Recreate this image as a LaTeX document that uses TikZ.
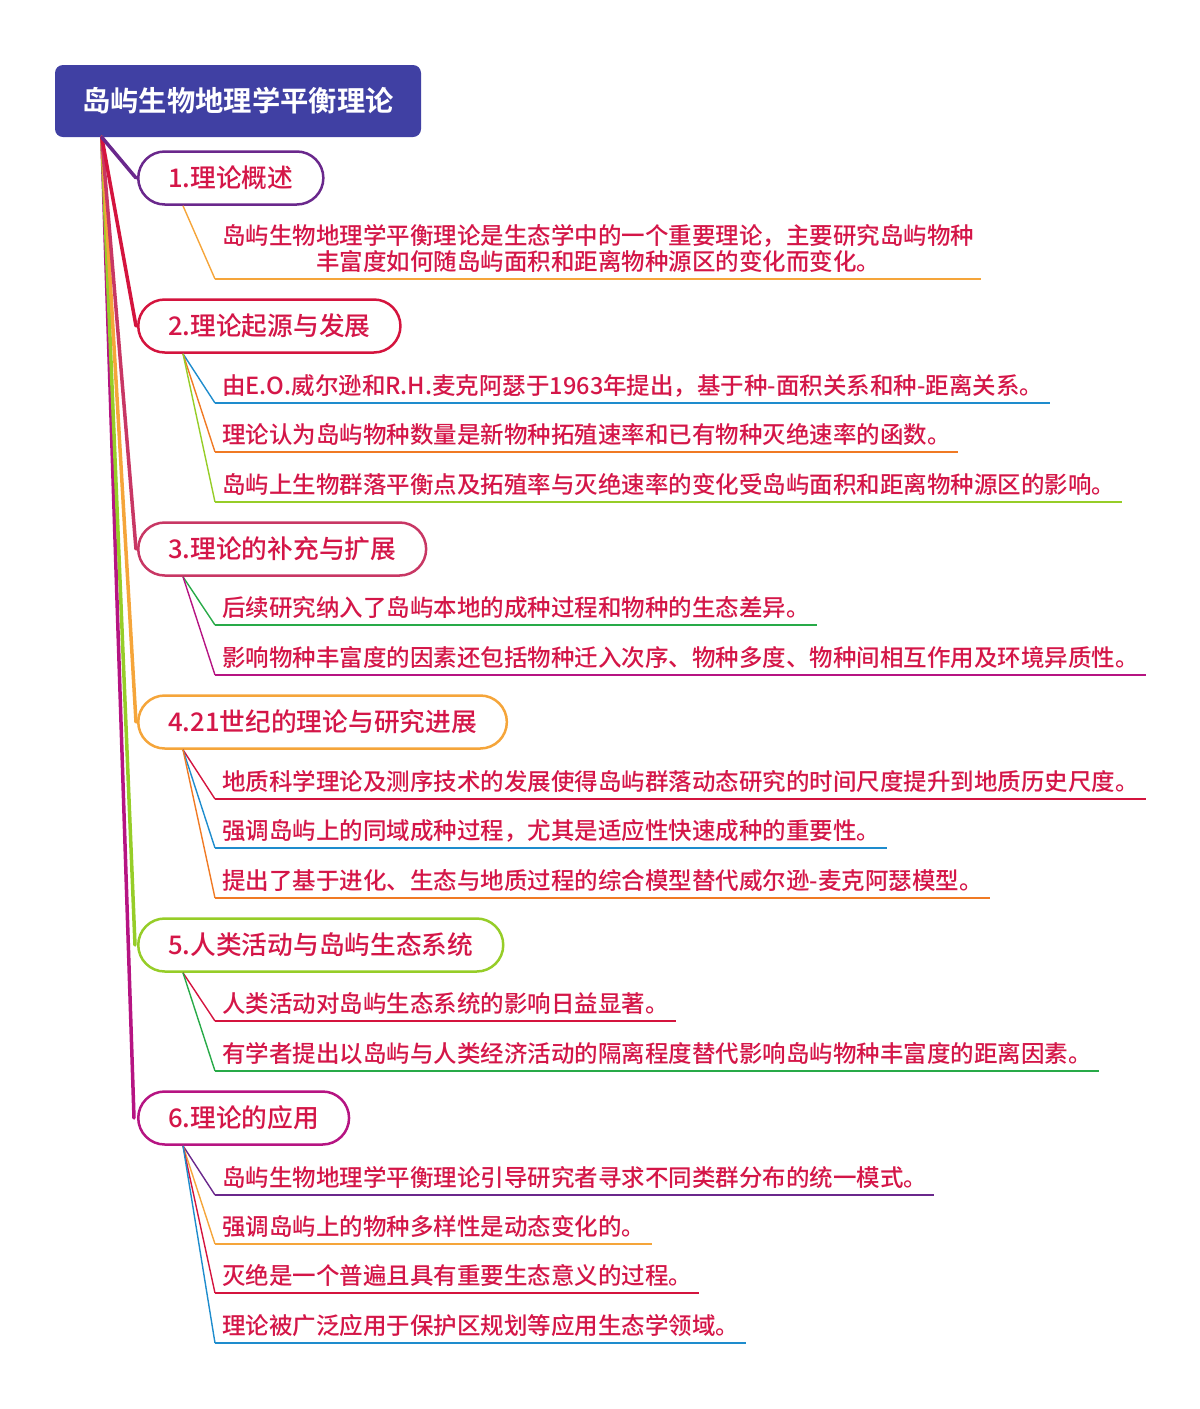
\documentclass[tikz,border=0pt]{standalone}
\usepackage{fontspec}
\setmainfont{Noto Sans CJK SC}[UprightFont=* Medium, BoldFont=* Bold]
\usepackage{xcolor}
\definecolor{rootindigo}{RGB}{64,64,163}
\definecolor{inkred}{RGB}{212,22,72}
\definecolor{islepurple}{RGB}{106,40,140}
\definecolor{islecrimson}{RGB}{212,20,62}
\definecolor{islerose}{RGB}{200,55,100}
\definecolor{isleorange}{RGB}{245,165,58}
\definecolor{isledeeporange}{RGB}{240,122,36}
\definecolor{islelime}{RGB}{150,205,40}
\definecolor{islegreen}{RGB}{40,170,72}
\definecolor{islemagenta}{RGB}{182,20,130}
\definecolor{isleblue}{RGB}{30,140,205}

\tikzset{
  rootbox/.style={fill=rootindigo, rounded corners=8pt, text=white,
    font=\bfseries\fontsize{28.3}{34}\selectfont,
    minimum width=366pt, minimum height=72pt, inner sep=0pt},
  branchbox/.style={draw=#1, line width=2.5pt, fill=white,
    rounded corners=26.5pt, text=inkred, font=\fontsize{25.7}{26}\selectfont,
    minimum height=53pt, inner xsep=30pt, inner ysep=0pt, anchor=west},
  leafbox/.style={text=inkred, font=\fontsize{23.5}{26}\selectfont,
    inner xsep=7pt, inner ysep=0pt, text depth=8pt, anchor=south west},
  trunk/.style={draw=#1, line width=3.5pt, line cap=round},
  twig/.style={draw=#1, line width=1.4pt},
  underline/.style={draw=#1, line width=2pt},
}

\begin{document}
\begin{tikzpicture}[x=1pt, y=-1pt]
    \useasboundingbox (0,0) rectangle (1200,1409);

    % Root topic
    \node[rootbox] (root) at (238,101) {岛屿生物地理学平衡理论};
    \coordinate (hub) at ([xshift=47pt]root.south west);

    % Trunk lines from the root to each branch
    \draw[trunk=islemagenta] (hub) -- (134,1118) coordinate (t6);
    \draw[trunk=islelime] (hub) -- (135,945) coordinate (t5);
    \draw[trunk=isleorange] (hub) -- (136,722) coordinate (t4);
    \draw[trunk=islerose] (hub) -- (136,549) coordinate (t3);
    \draw[trunk=islecrimson] (hub) -- (136,326) coordinate (t2);
    \draw[trunk=islepurple] (hub) -- (136,178) coordinate (t1);

    % Branch 1: overview
    \node[branchbox=islepurple] (br1) at (137,178) {1.理论概述};
    \node[leafbox, align=center] (lf1) at (215,279)
        {岛屿生物地理学平衡理论是生态学中的一个重要理论，主要研究岛屿物种\\丰富度如何随岛屿面积和距离物种源区的变化而变化。};
    \draw[twig=isleorange] ([xshift=46pt]br1.south west) -- (lf1.south west);
    \draw[underline=isleorange] (lf1.south west) -- (lf1.south east);

    % Branch 2: origin and development
    \node[branchbox=islecrimson] (br2) at (137,326) {2.理论起源与发展};
    \node[leafbox] (lf2a) at (215,403) {由E.O.威尔逊和R.H.麦克阿瑟于1963年提出，基于种-面积关系和种-距离关系。};
    \node[leafbox] (lf2b) at (215,452) {理论认为岛屿物种数量是新物种拓殖速率和已有物种灭绝速率的函数。};
    \node[leafbox] (lf2c) at (215,502) {岛屿上生物群落平衡点及拓殖率与灭绝速率的变化受岛屿面积和距离物种源区的影响。};
    \draw[twig=isleblue] ([xshift=46pt]br2.south west) -- (lf2a.south west);
    \draw[twig=isledeeporange] ([xshift=46pt]br2.south west) -- (lf2b.south west);
    \draw[twig=islelime] ([xshift=46pt]br2.south west) -- (lf2c.south west);
    \draw[underline=isleblue] (lf2a.south west) -- (lf2a.south east);
    \draw[underline=isledeeporange] (lf2b.south west) -- (lf2b.south east);
    \draw[underline=islelime] (lf2c.south west) -- (lf2c.south east);

    % Branch 3: supplements and extensions
    \node[branchbox=islerose] (br3) at (137,549) {3.理论的补充与扩展};
    \node[leafbox] (lf3a) at (215,625) {后续研究纳入了岛屿本地的成种过程和物种的生态差异。};
    \node[leafbox] (lf3b) at (215,675) {影响物种丰富度的因素还包括物种迁入次序、物种多度、物种间相互作用及环境异质性。};
    \draw[twig=islegreen] ([xshift=46pt]br3.south west) -- (lf3a.south west);
    \draw[twig=islemagenta] ([xshift=46pt]br3.south west) -- (lf3b.south west);
    \draw[underline=islegreen] (lf3a.south west) -- (lf3a.south east);
    \draw[underline=islemagenta] (lf3b.south west) -- (lf3b.south east);

    % Branch 4: research progress in the 21st century
    \node[branchbox=isleorange] (br4) at (137,722) {4.21世纪的理论与研究进展};
    \node[leafbox] (lf4a) at (215,799) {地质科学理论及测序技术的发展使得岛屿群落动态研究的时间尺度提升到地质历史尺度。};
    \node[leafbox] (lf4b) at (215,848) {强调岛屿上的同域成种过程，尤其是适应性快速成种的重要性。};
    \node[leafbox] (lf4c) at (215,898) {提出了基于进化、生态与地质过程的综合模型替代威尔逊-麦克阿瑟模型。};
    \draw[twig=islecrimson] ([xshift=46pt]br4.south west) -- (lf4a.south west);
    \draw[twig=isleblue] ([xshift=46pt]br4.south west) -- (lf4b.south west);
    \draw[twig=isledeeporange] ([xshift=46pt]br4.south west) -- (lf4c.south west);
    \draw[underline=islecrimson] (lf4a.south west) -- (lf4a.south east);
    \draw[underline=isleblue] (lf4b.south west) -- (lf4b.south east);
    \draw[underline=isledeeporange] (lf4c.south west) -- (lf4c.south east);

    % Branch 5: human activity
    \node[branchbox=islelime] (br5) at (137,945) {5.人类活动与岛屿生态系统};
    \node[leafbox] (lf5a) at (215,1021) {人类活动对岛屿生态系统的影响日益显著。};
    \node[leafbox] (lf5b) at (215,1071) {有学者提出以岛屿与人类经济活动的隔离程度替代影响岛屿物种丰富度的距离因素。};
    \draw[twig=islecrimson] ([xshift=46pt]br5.south west) -- (lf5a.south west);
    \draw[twig=islegreen] ([xshift=46pt]br5.south west) -- (lf5b.south west);
    \draw[underline=islecrimson] (lf5a.south west) -- (lf5a.south east);
    \draw[underline=islegreen] (lf5b.south west) -- (lf5b.south east);

    % Branch 6: applications
    \node[branchbox=islemagenta] (br6) at (137,1118) {6.理论的应用};
    \node[leafbox] (lf6a) at (215,1195) {岛屿生物地理学平衡理论引导研究者寻求不同类群分布的统一模式。};
    \node[leafbox] (lf6b) at (215,1244) {强调岛屿上的物种多样性是动态变化的。};
    \node[leafbox] (lf6c) at (215,1293) {灭绝是一个普遍且具有重要生态意义的过程。};
    \node[leafbox] (lf6d) at (215,1343) {理论被广泛应用于保护区规划等应用生态学领域。};
    \draw[twig=islepurple] ([xshift=46pt]br6.south west) -- (lf6a.south west);
    \draw[twig=isleorange] ([xshift=46pt]br6.south west) -- (lf6b.south west);
    \draw[twig=islecrimson] ([xshift=46pt]br6.south west) -- (lf6c.south west);
    \draw[twig=isleblue] ([xshift=46pt]br6.south west) -- (lf6d.south west);
    \draw[underline=islepurple] (lf6a.south west) -- (lf6a.south east);
    \draw[underline=isleorange] (lf6b.south west) -- (lf6b.south east);
    \draw[underline=islecrimson] (lf6c.south west) -- (lf6c.south east);
    \draw[underline=isleblue] (lf6d.south west) -- (lf6d.south east);
\end{tikzpicture}
\end{document}
